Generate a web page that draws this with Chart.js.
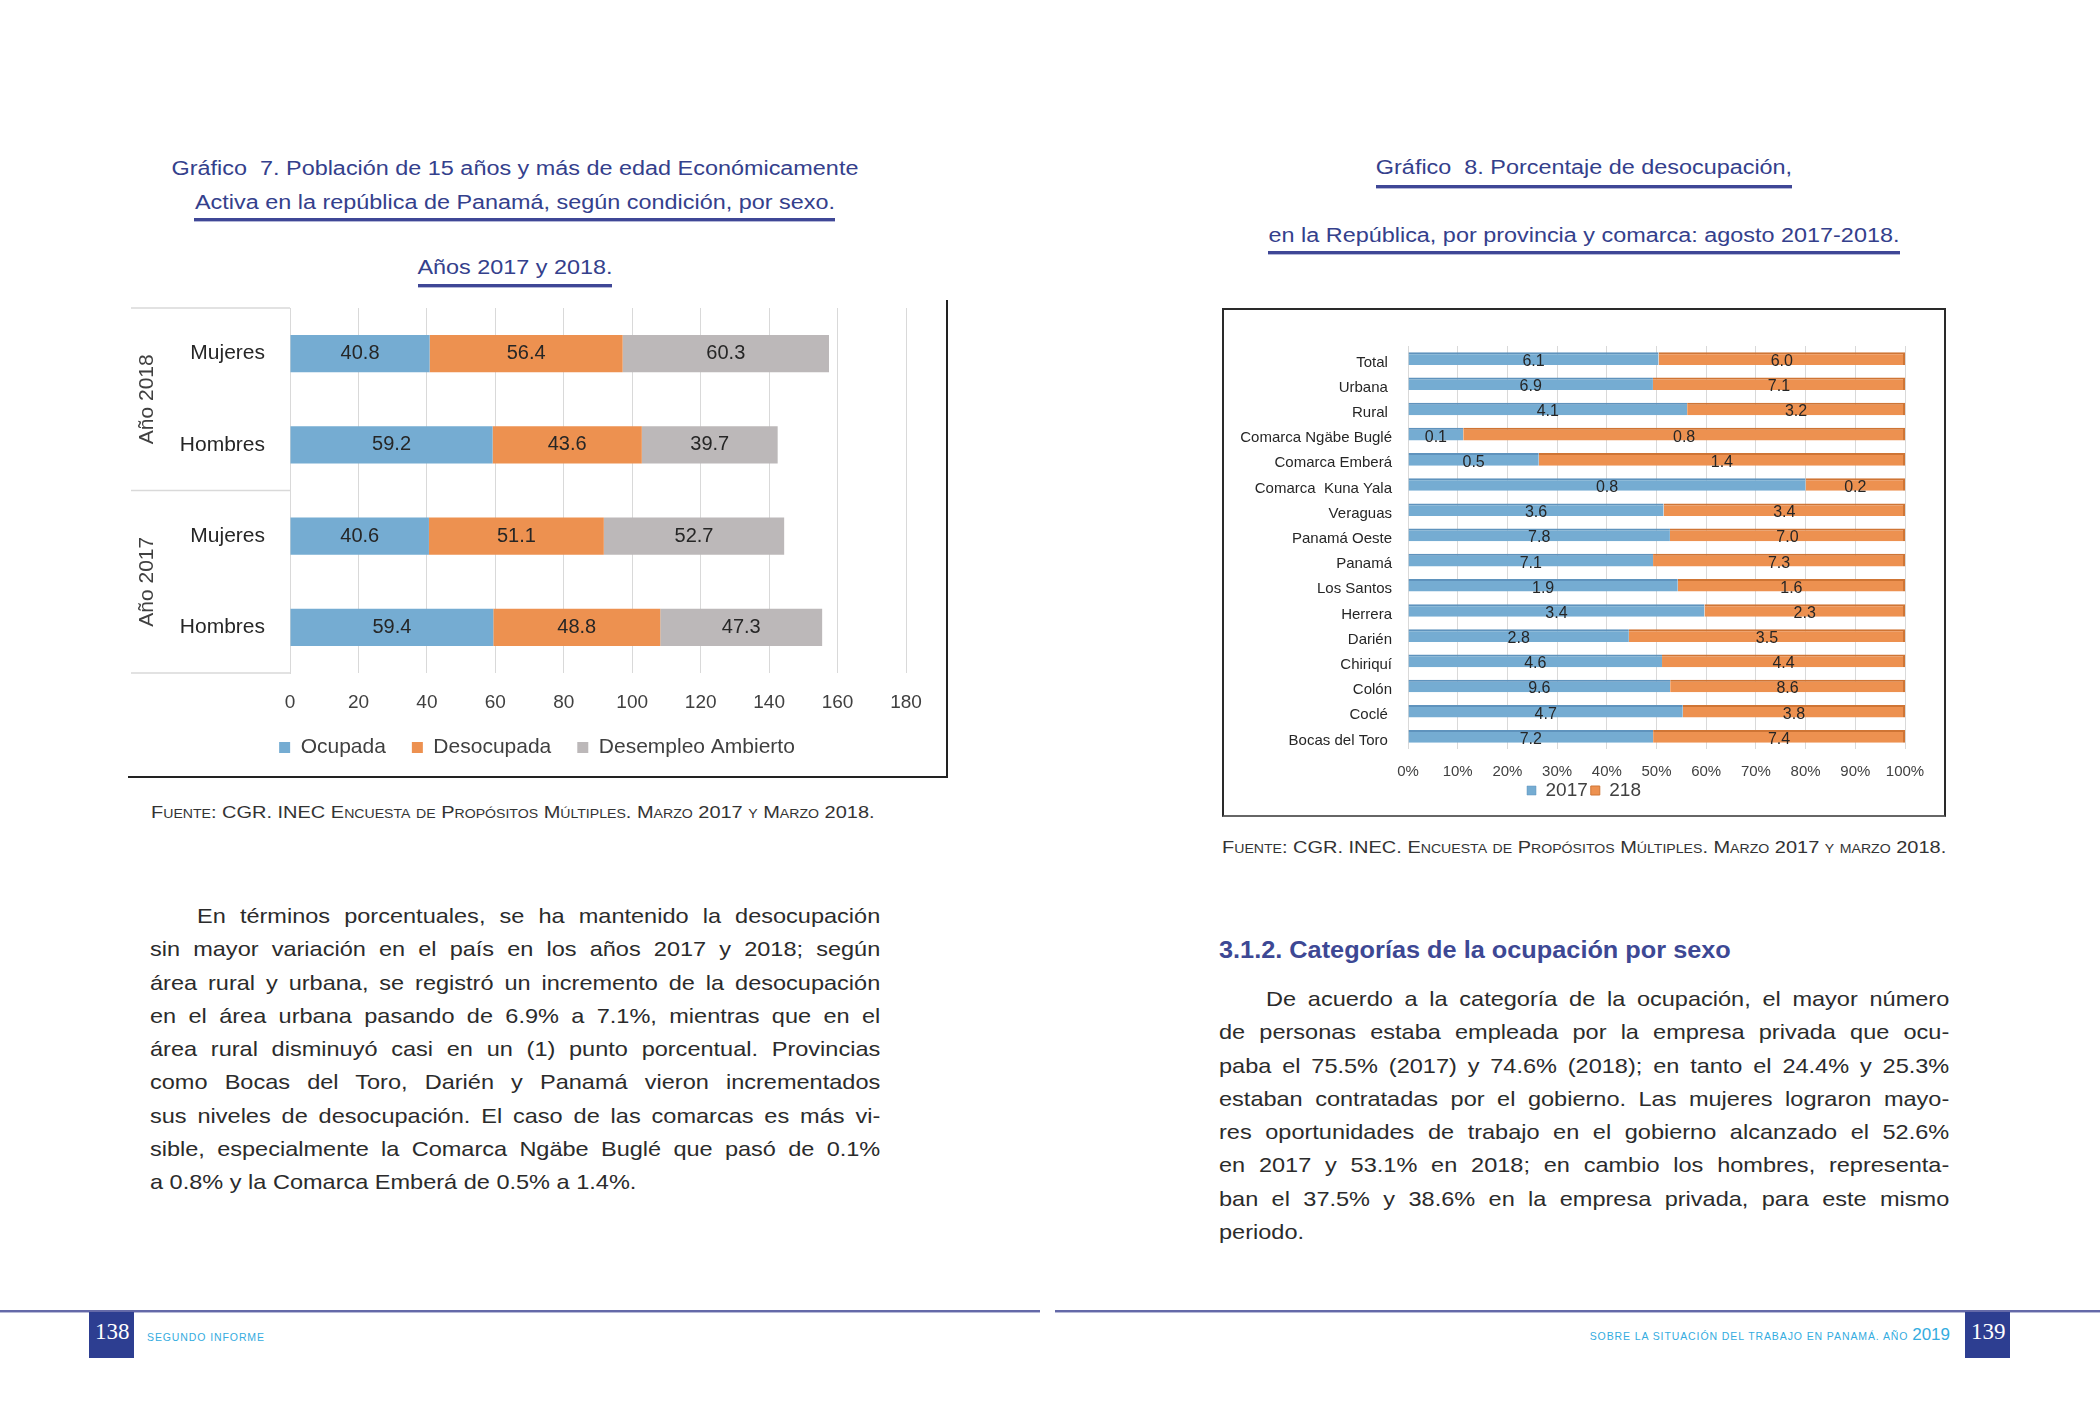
<!DOCTYPE html>
<html lang="es">
<head>
<meta charset="utf-8">
<title>Gráficos 7 y 8</title>
<script src="https://cdn.jsdelivr.net/npm/chart.js@4.4.1/dist/chart.umd.min.js"></script>
<style>
  html, body { margin: 0; padding: 0; background: #fff; }
  body { width: 2100px; height: 1425px; position: relative; overflow: hidden;
         font-family: "Liberation Sans", Arial, sans-serif; color: #2b2b2b; }
  .title { position: absolute; width: 900px; text-align: center; white-space: nowrap;
           color: #34408c; font-size: 20px; line-height: 24px; transform: scaleX(1.17); }
  .rule { position: absolute; height: 3px; background: #3f4796; border-bottom: 1px solid #b4b7d8; }
  .fuente { position: absolute; font-size: 17px; font-variant: small-caps; white-space: nowrap;
            color: #333; line-height: 20px; transform: scaleX(1.175); transform-origin: 0 0; }
  .para { position: absolute; width: 652px; font-size: 21px; line-height: 33.3px; color: #2b2b2b;
          transform: scaleX(1.12); transform-origin: 0 0; }
  .para div { text-align: justify; text-align-last: justify; white-space: nowrap; }
  .para div.first { text-indent: 42px; }
  .para div.last { text-align-last: left; }
  .heading { position: absolute; font-size: 23px; font-weight: bold; color: #3d4894; white-space: nowrap;
             line-height: 28px; transform: scaleX(1.1); transform-origin: 0 0; }
  .chart1 { position: absolute; left: 128px; top: 300px; width: 818px; height: 476px;
            border-right: 2px solid #222; border-bottom: 2px solid #222; }
  .chart2 { position: absolute; left: 1222px; top: 308px; width: 720px; height: 505px;
            border: 2px solid #2a2a2a; border-bottom-color: #666; }
  .hline { position: absolute; height: 2px; background: #6469a8; border-bottom: 1px solid #b9bbd8; }
  .pagebox { position: absolute; width: 45px; height: 46px; background: #2d3e91; color: #fff;
             font-family: "Liberation Serif", "DejaVu Serif", serif; font-size: 23px; line-height: 40px; }
  .foot { position: absolute; color: #34ace0; font-size: 10.5px; letter-spacing: 0.9px; white-space: nowrap; line-height: 20px; }
</style>
</head>
<body>

<!-- left page -->
<div class="title" style="left:65px; top:156px;">Gráfico&nbsp; 7. Población de 15 años y más de edad Económicamente</div>
<div class="title" style="left:65px; top:190px;">Activa en la república de Panamá, según condición, por sexo.</div>
<div class="rule" style="left:194px; top:218px; width:641px;"></div>
<div class="title" style="left:65px; top:255px;">Años 2017 y 2018.</div>
<div class="rule" style="left:418px; top:284px; width:194px;"></div>

<div class="chart1"><canvas id="chart1" width="818" height="476"></canvas></div>

<div class="fuente" style="left:151px; top:803px;">Fuente: CGR. INEC Encuesta de Propósitos Múltiples. Marzo 2017 y Marzo 2018.</div>

<div class="para" style="left:150px; top:899px;">
  <div class="first">En términos porcentuales, se ha mantenido la desocupación</div>
  <div>sin mayor variación en el país en los años 2017 y 2018; según</div>
  <div>área rural y urbana, se registró un incremento de la desocupación</div>
  <div>en el área urbana pasando de 6.9% a 7.1%, mientras que en el</div>
  <div>área rural disminuyó casi en un (1) punto porcentual. Provincias</div>
  <div>como Bocas del Toro, Darién y Panamá vieron incrementados</div>
  <div>sus niveles de desocupación. El caso de las comarcas es más vi-</div>
  <div>sible, especialmente la Comarca Ngäbe Buglé que pasó de 0.1%</div>
  <div class="last">a 0.8% y la Comarca Emberá de 0.5% a 1.4%.</div>
</div>

<!-- right page -->
<div class="title" style="left:1134px; top:155px;">Gráfico&nbsp; 8. Porcentaje de desocupación,</div>
<div class="rule" style="left:1376px; top:185px; width:416px;"></div>
<div class="title" style="left:1134px; top:223px;">en la República, por provincia y comarca: agosto 2017-2018.</div>
<div class="rule" style="left:1268px; top:251px; width:632px;"></div>

<div class="chart2"><canvas id="chart2" width="720" height="505"></canvas></div>

<div class="fuente" style="left:1222px; top:838px;">Fuente: CGR. INEC. Encuesta de Propósitos Múltiples. Marzo 2017 y marzo 2018.</div>

<div class="heading" style="left:1219px; top:936px;">3.1.2. Categorías de la ocupación por sexo</div>

<div class="para" style="left:1219px; top:982px;">
  <div class="first">De acuerdo a la categoría de la ocupación, el mayor número</div>
  <div>de personas estaba empleada por la empresa privada que ocu-</div>
  <div>paba el 75.5% (2017) y 74.6% (2018); en tanto el 24.4% y 25.3%</div>
  <div>estaban contratadas por el gobierno. Las mujeres lograron mayo-</div>
  <div>res oportunidades de trabajo en el gobierno alcanzado el 52.6%</div>
  <div>en 2017 y 53.1% en 2018; en cambio los hombres, representa-</div>
  <div>ban el 37.5% y 38.6% en la empresa privada, para este mismo</div>
  <div class="last">periodo.</div>
</div>

<!-- footer -->
<div class="hline" style="left:0; top:1310px; width:1040px;"></div>
<div class="hline" style="left:1055px; top:1310px; width:1045px;"></div>
<div class="pagebox" style="left:89px; top:1312px;"><span style="padding-left:6px;">138</span></div>
<div class="foot" style="left:147px; top:1327px;">SEGUNDO INFORME</div>
<div class="foot" style="right:150px; top:1325px;">SOBRE LA SITUACIÓN DEL TRABAJO EN PANAMÁ. AÑO <span style="font-size:17px; letter-spacing:0;">2019</span></div>
<div class="pagebox" style="left:1965px; top:1312px;"><span style="padding-left:6px;">139</span></div>

<script>
// Gráfico 7: población económicamente activa por condición y sexo
const groupLabels = ['Año 2018', 'Año 2017'];
const sexLabels = ['Mujeres', 'Hombres', 'Mujeres', 'Hombres'];
const ocupada = [40.8, 59.2, 40.6, 59.4];
const desocupada = [56.4, 43.6, 51.1, 48.8];
const desempleo = [60.3, 39.7, 52.7, 47.3];
const seriesNames1 = ['Ocupada', 'Desocupada', 'Desempleo Ambierto'];

// Gráfico 8: porcentaje de desocupación por provincia y comarca
const areas = ['Total ', 'Urbana ', 'Rural ', 'Comarca Ngäbe Buglé', 'Comarca Emberá', 'Comarca  Kuna Yala',
  'Veraguas', 'Panamá Oeste', 'Panamá', 'Los Santos', 'Herrera', 'Darién', 'Chiriquí', 'Colón', 'Coclé ', 'Bocas del Toro '];
const des2017 = [6.1, 6.9, 4.1, 0.1, 0.5, 0.8, 3.6, 7.8, 7.1, 1.9, 3.4, 2.8, 4.6, 9.6, 4.7, 7.2];
const des2018 = [6.0, 7.1, 3.2, 0.8, 1.4, 0.2, 3.4, 7.0, 7.3, 1.6, 2.3, 3.5, 4.4, 8.6, 3.8, 7.4];
const seriesNames2 = ['2017', '218'];

const FONT = '"Liberation Sans", Arial, sans-serif';
Chart.defaults.font.family = FONT;

// writes the value of each segment in the middle of the bar
const valueLabels = {
  id: 'valueLabels',
  afterDatasetsDraw(chart, args, opts) {
    const ctx = chart.ctx;
    ctx.save();
    ctx.font = opts.size + 'px ' + FONT;
    ctx.fillStyle = opts.color;
    ctx.textAlign = 'center';
    ctx.textBaseline = 'middle';
    chart.data.datasets.forEach((ds, di) => {
      chart.getDatasetMeta(di).data.forEach((bar, i) => {
        ctx.fillText(ds.shown[i].toFixed(1), (bar.x + bar.base) / 2, bar.y + (opts.dy || 0));
      });
    });
    ctx.restore();
  }
};

// year group boxes on the left of chart 7
const groupAxis = {
  id: 'groupAxis',
  afterDraw(chart) {
    const { ctx, chartArea } = chart;
    const y = chart.scales.y;
    const mid = (y.getPixelForValue(1) + y.getPixelForValue(2)) / 2;
    ctx.save();
    ctx.strokeStyle = '#d9d9d9';
    ctx.lineWidth = 1.5;
    [chartArea.top, mid, chartArea.bottom].forEach(py => {
      ctx.beginPath();
      ctx.moveTo(3, py);
      ctx.lineTo(chartArea.left, py);
      ctx.stroke();
    });
    ctx.fillStyle = '#404040';
    ctx.font = '21px ' + FONT;
    ctx.textAlign = 'center';
    ctx.textBaseline = 'middle';
    const centers = [(chartArea.top + mid) / 2, (mid + chartArea.bottom) / 2];
    groupLabels.forEach((g, i) => {
      ctx.save();
      ctx.translate(19, centers[i]);
      ctx.rotate(-Math.PI / 2);
      ctx.fillText(g, 0, 0);
      ctx.restore();
    });
    ctx.restore();
  }
};

// empty axis on the right: keeps a margin beside the bars without narrowing the legend row
const rightGap = w => ({
  axis: 'y', type: 'linear', position: 'right', display: true,
  grid: { display: false, drawTicks: false }, border: { display: false }, ticks: { display: false },
  afterFit(s) { s.width = w; }
});

new Chart(document.getElementById('chart1'), {
  type: 'bar',
  data: {
    labels: sexLabels,
    datasets: [
      { label: seriesNames1[0], data: ocupada, shown: ocupada, backgroundColor: '#75acd2' },
      { label: seriesNames1[1], data: desocupada, shown: desocupada, backgroundColor: '#ed9150' },
      { label: seriesNames1[2], data: desempleo, shown: desempleo, backgroundColor: '#bcb8b9' }
    ]
  },
  plugins: [valueLabels, groupAxis],
  options: {
    indexAxis: 'y',
    responsive: false,
    animation: false,
    datasets: { bar: { barPercentage: 0.41, categoryPercentage: 1 } },
    layout: { padding: { top: 8, right: 0, left: 0, bottom: 8 } },
    scales: {
      x: {
        stacked: true, min: 0, max: 180,
        ticks: { stepSize: 20, padding: 18, color: '#404040', font: { size: 19 } },
        grid: { color: '#d9d9d9', drawTicks: false },
        border: { display: false },
        afterFit(s) { s.height = 38; }
      },
      y: {
        stacked: true,
        // gap to the bars comes from an invisible tick length, so the axis asks for little top padding
        ticks: { padding: 0, color: '#262626', font: { size: 21, lineHeight: 0.5 } },
        grid: { display: false, drawTicks: true, tickLength: 25 },
        border: { color: '#d9d9d9' },
        afterFit(s) { s.width = 162; }
      },
      yRight: rightGap(40)
    },
    plugins: {
      legend: {
        position: 'bottom',
        labels: { boxWidth: 11, boxHeight: 11, padding: 26, color: '#404040', font: { size: 21 } }
      },
      tooltip: { enabled: false },
      valueLabels: { size: 20, color: '#262626', dy: 0 }
    }
  }
});

// chart 8 is a 100% stacked bar: shares are built from the two years
const share2017 = des2017.map((v, i) => v / (v + des2018[i]) * 100);
const share2018 = des2018.map((v, i) => v / (v + des2017[i]) * 100);

new Chart(document.getElementById('chart2'), {
  type: 'bar',
  data: {
    labels: areas,
    datasets: [
      { label: seriesNames2[0], data: share2017, shown: des2017, backgroundColor: '#75acd2',
        borderColor: '#5f93bd', borderWidth: { top: 2, right: 0, bottom: 0, left: 0 }, borderSkipped: false },
      { label: seriesNames2[1], data: share2018, shown: des2018, backgroundColor: '#ed9150',
        borderColor: '#cf7535', borderWidth: { top: 2, right: 2, bottom: 0, left: 0 }, borderSkipped: false }
    ]
  },
  plugins: [valueLabels],
  options: {
    indexAxis: 'y',
    responsive: false,
    animation: false,
    datasets: { bar: { barPercentage: 1, categoryPercentage: 0.5 } },
    layout: { padding: { top: 36, right: 0, left: 0, bottom: 5 } },
    scales: {
      x: {
        stacked: true, min: 0, max: 100,
        ticks: { stepSize: 10, padding: 14, color: '#404040', font: { size: 15 }, callback: v => v + '%' },
        grid: { color: '#d9d9d9', drawTicks: false },
        border: { display: false },
        afterFit(s) { s.height = 29; }
      },
      y: {
        stacked: true,
        ticks: { padding: 16, labelOffset: 4, color: '#262626', font: { size: 15 } },
        grid: { display: false, drawTicks: false },
        border: { display: false },
        afterFit(s) { s.width = 184; }
      },
      yRight: rightGap(39)
    },
    plugins: {
      legend: {
        position: 'bottom',
        labels: { boxWidth: 9, boxHeight: 9, padding: 3, color: '#404040', font: { size: 19 } }
      },
      tooltip: { enabled: false },
      valueLabels: { size: 16, color: '#262626', dy: 3 }
    }
  }
});
</script>
</body>
</html>
